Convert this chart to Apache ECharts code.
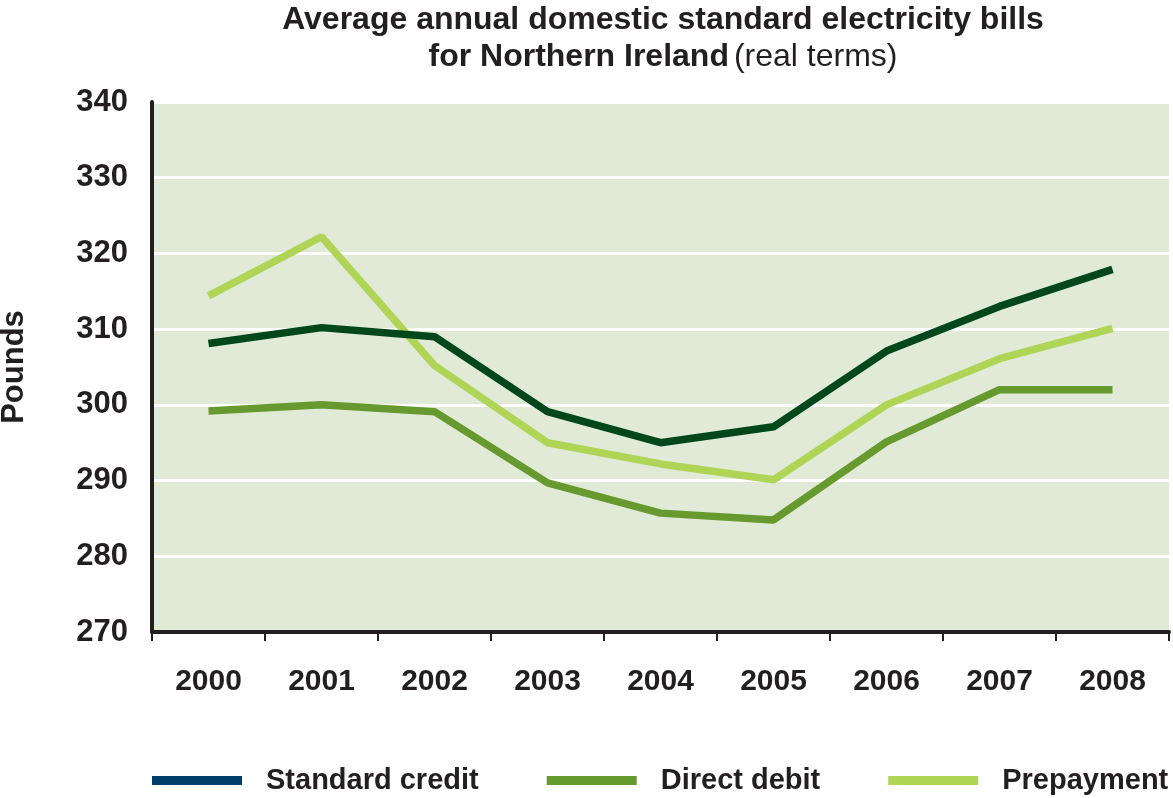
<!DOCTYPE html>
<html>
<head>
<meta charset="utf-8">
<script src="https://cdn.jsdelivr.net/npm/echarts@6/dist/echarts.min.js"></script>
<style>
html,body{margin:0;padding:0;background:#fff;}
#chart{width:1173px;height:798px;}
</style>
</head>
<body>
<div id="chart"></div>
<script>
const years = ['2000','2001','2002','2003','2004','2005','2006','2007','2008'];
const standardCredit = [308.1, 310.2, 309.0, 299.1, 295.0, 297.1, 307.1, 313.0, 317.9];
const directDebit = [299.2, 300.0, 299.1, 289.7, 285.7, 284.8, 295.1, 302.0, 302.0];
const prepayment = [314.4, 322.2, 305.2, 295.0, 292.2, 290.1, 300.0, 306.1, 310.1];
const seriesNames = ['Standard credit', 'Direct debit', 'Prepayment'];

const FONT = '"Liberation Sans", Arial, sans-serif';
const chart = echarts.init(document.getElementById('chart'));
chart.setOption({
  animation: false,
  textStyle: { fontFamily: FONT },
  title: {
    left: 658,
    top: -3,
    textAlign: 'center',
    text: '{b|Average annual domestic standard electricity bills}\n{b|for Northern Ireland} {n|(real terms)}',
    textStyle: {
      rich: {
        b: { fontFamily: FONT, fontWeight: 'bold', fontSize: 32, color: '#231f20', lineHeight: 37 },
        n: { fontFamily: FONT, fontWeight: 'normal', fontSize: 32, color: '#231f20', lineHeight: 37 }
      }
    }
  },
  grid: {
    left: 152, right: 4, top: 102, bottom: 166,
    containLabel: false,
    outerBoundsMode: 'none',
    show: true, backgroundColor: '#e1ead7', borderWidth: 0
  },
  legend: {
    bottom: 3,
    left: 152,
    width: 1021,
    padding: 0,
    itemWidth: 90,
    itemHeight: 9,
    itemGap: 68,
    icon: 'rect',
    textStyle: { fontFamily: FONT, fontWeight: 'bold', fontSize: 29, color: '#231f20', padding: [0, 0, 0, 19] },
    data: [
      { name: seriesNames[0], itemStyle: { color: '#003f6b' } },
      { name: seriesNames[1], itemStyle: { color: '#66992e' } },
      { name: seriesNames[2], itemStyle: { color: '#b0d455' } }
    ]
  },
  xAxis: {
    type: 'category',
    data: years,
    boundaryGap: true,
    axisLine: { lineStyle: { color: '#231f20', width: 4 } },
    axisTick: { show: true, length: 9, lineStyle: { color: '#231f20', width: 2 } },
    axisLabel: { margin: 35, fontFamily: FONT, fontWeight: 'bold', fontSize: 30, color: '#231f20' },
    splitLine: { show: false }
  },
  yAxis: {
    type: 'value',
    min: 270, max: 340, interval: 10,
    name: 'Pounds',
    nameLocation: 'middle',
    nameGap: 122,
    nameTextStyle: { fontFamily: FONT, fontWeight: 'bold', fontSize: 31, color: '#231f20' },
    axisLine: { show: true, lineStyle: { color: '#231f20', width: 4 } },
    axisTick: { show: false },
    axisLabel: { margin: 24, fontFamily: FONT, fontWeight: 'bold', fontSize: 31, color: '#231f20' },
    splitLine: { show: true, lineStyle: { color: '#ffffff', width: 3 } }
  },
  series: [
    { name: seriesNames[0], type: 'line', data: standardCredit, symbol: 'none', lineStyle: { color: '#00471b', width: 7.5 }, itemStyle: { color: '#00471b' }, z: 3 },
    { name: seriesNames[1], type: 'line', data: directDebit, symbol: 'none', lineStyle: { color: '#66992e', width: 7.5 }, itemStyle: { color: '#66992e' }, z: 2 },
    { name: seriesNames[2], type: 'line', data: prepayment, symbol: 'none', lineStyle: { color: '#b0d455', width: 7.5 }, itemStyle: { color: '#b0d455' }, z: 1 }
  ]
});
</script>
</body>
</html>
